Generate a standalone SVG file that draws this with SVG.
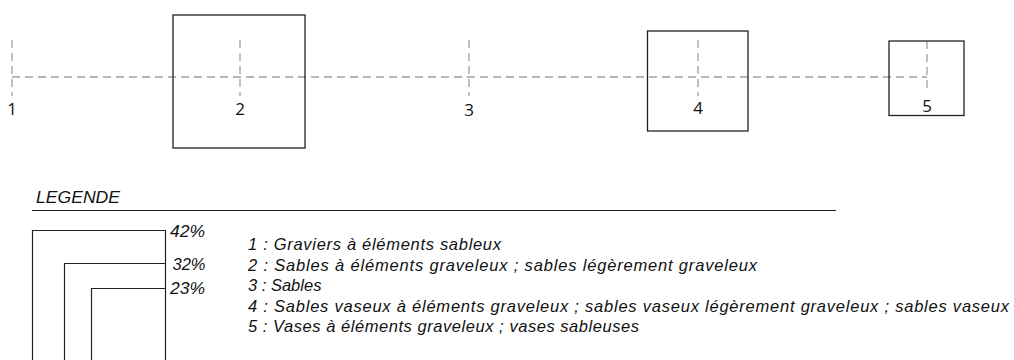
<svg xmlns="http://www.w3.org/2000/svg" width="1014" height="360" viewBox="0 0 1014 360">
<style>
.box{fill:none;stroke:#222;stroke-width:1.3}
.dash{fill:none;stroke:#a0a0a0;stroke-width:1.3;stroke-dasharray:8 5}
.num{font-family:"Open Sans","Liberation Sans",sans-serif;font-size:17px;fill:#111;text-anchor:middle}
.it{font-family:"Liberation Sans","Open Sans",sans-serif;font-style:italic;font-size:16.5px;fill:#111}
.leg{fill:none;stroke:#222;stroke-width:1.2}
</style>
<rect width="1014" height="360" fill="#fff"/>
<g id="connectors">
<line class="dash" x1="12" y1="77" x2="927" y2="77"/>
<line class="dash" x1="12" y1="40" x2="12" y2="96"/>
<line class="dash" x1="240" y1="40" x2="240" y2="96"/>
<line class="dash" x1="469" y1="40" x2="469" y2="96"/>
<line class="dash" x1="698" y1="40" x2="698" y2="96"/>
<line class="dash" x1="927" y1="41" x2="927" y2="93"/>
</g>
<g id="node1"><text class="num" x="12" y="115">1</text></g>
<g id="node2"><rect class="box" x="173" y="15" width="132" height="133"/><text class="num" x="240" y="115">2</text></g>
<g id="node3"><text class="num" x="469" y="116">3</text></g>
<g id="node4"><rect class="box" x="647.5" y="31" width="100.5" height="100"/><text class="num" x="698" y="114">4</text></g>
<g id="node5"><rect class="box" x="889" y="41" width="75" height="74.5"/><text class="num" x="927" y="112">5</text></g>
<g id="legend">
<text class="it" x="36" y="203" textLength="84" lengthAdjust="spacingAndGlyphs">LEGENDE</text>
<line class="leg" x1="32" y1="210.5" x2="836" y2="210.5"/>
<path class="leg" d="M32.5 360 V230.5 H165.5 V360"/>
<path class="leg" d="M64.5 360 V263.5 H165.5"/>
<path class="leg" d="M91.5 360 V288.5 H165.5"/>
<text class="it" x="170" y="237" textLength="35" lengthAdjust="spacingAndGlyphs">42%</text>
<text class="it" x="172.5" y="270" textLength="33" lengthAdjust="spacingAndGlyphs">32%</text>
<text class="it" x="170" y="293.5" textLength="35" lengthAdjust="spacingAndGlyphs">23%</text>
<text class="it" x="248" y="250" textLength="253" lengthAdjust="spacing">1 : Graviers à éléments sableux</text>
<text class="it" x="248" y="270.5" textLength="509" lengthAdjust="spacing">2 : Sables à éléments graveleux ; sables légèrement graveleux</text>
<text class="it" x="248" y="291">3 : Sables</text>
<text class="it" x="248" y="311.5" textLength="761" lengthAdjust="spacing">4 : Sables vaseux à éléments graveleux ; sables vaseux légèrement graveleux ; sables vaseux</text>
<text class="it" x="248" y="332" textLength="391" lengthAdjust="spacing">5 : Vases à éléments graveleux ; vases sableuses</text>
</g>
</svg>
